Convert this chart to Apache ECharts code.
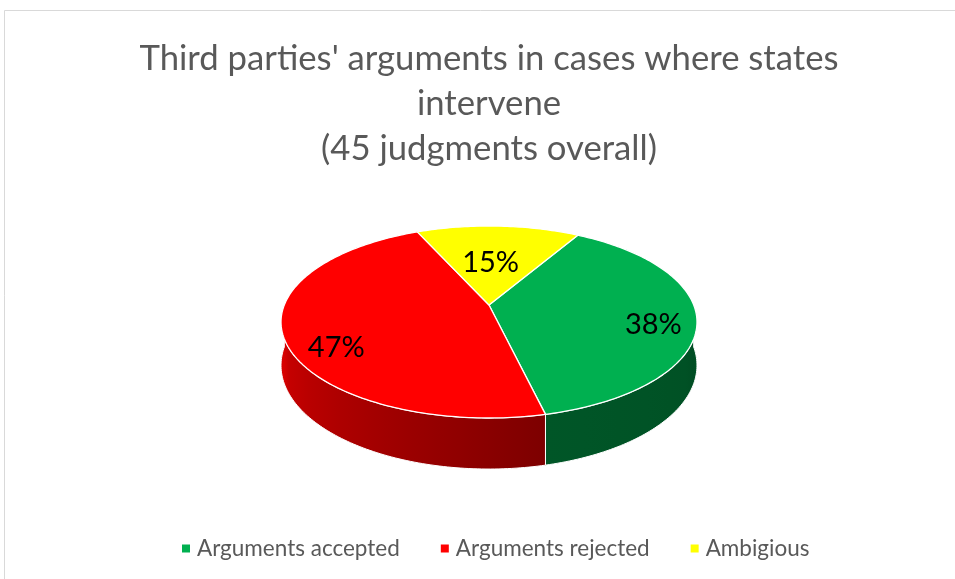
<!DOCTYPE html>
<html><head><meta charset="utf-8">
<script src="https://cdn.jsdelivr.net/npm/echarts@6/dist/echarts.min.js"></script>
<style>html,body{margin:0;padding:0;background:#fff}#chart{width:955px;height:579px}</style>
</head><body><div id="chart"></div>
<script>
// ---- data ----
const categories = ['Arguments accepted', 'Arguments rejected', 'Ambigious'];
const shares = [38, 47, 15];
const colors = ['#00b050', '#ff0000', '#ffff00'];
const titleLines = ["Third parties' arguments in cases where states", 'intervene', '(45 judgments overall)'];

// ---- geometry / style (not data) ----
const PIE = { cx: 489, cy: 305, f: 204.7, g: 93, k: 0.177, depth: 42, startAngle: 30 };
const LABEL_POS = [{ r: 0.8, da: 6 }, { r: 0.81, da: -13 }, { r: 0.5, da: -2 }];
const SHADE = [[90, 0.44], [167, 0.49], [260, 0.83], [270, 0.85]];

const total = shares.reduce((a, b) => a + b, 0);
const rad = d => d * Math.PI / 180;

function proj(deg, r) {
  const u = r * Math.sin(rad(deg)), v = r * Math.cos(rad(deg));
  const w = 1 + PIE.k * v;
  return [PIE.cx + PIE.f * u / w, PIE.cy - PIE.g * v / w, w];
}
function projBottom(deg) {
  const p = proj(deg, 1);
  return [p[0], p[1] + PIE.depth / p[2]];
}
function shadeAt(deg) {
  let d = ((deg % 360) + 360) % 360;
  if (d <= SHADE[0][0]) return SHADE[0][1];
  for (let i = 1; i < SHADE.length; i++) {
    if (d <= SHADE[i][0]) {
      const t = (d - SHADE[i - 1][0]) / (SHADE[i][0] - SHADE[i - 1][0]);
      return SHADE[i - 1][1] + t * (SHADE[i][1] - SHADE[i - 1][1]);
    }
  }
  return SHADE[SHADE.length - 1][1];
}
function shadeColor(hex, s) {
  const n = parseInt(hex.slice(1), 16);
  const r = Math.round(((n >> 16) & 255) * s), g = Math.round(((n >> 8) & 255) * s), b = Math.round((n & 255) * s);
  return 'rgb(' + r + ',' + g + ',' + b + ')';
}
function arc(a0, a1, fn) {
  const pts = [];
  const steps = Math.max(2, Math.ceil(Math.abs(a1 - a0)));
  for (let s = 0; s <= steps; s++) pts.push(fn(a0 + (a1 - a0) * s / steps));
  return pts;
}

function renderSlice(i) {
  return function (params, api) {
    const value = api.value(0);
    let before = 0;
    for (let j = 0; j < i; j++) before += shares[j];
    const a0 = PIE.startAngle + 360 * before / total;
    const a1 = a0 + 360 * value / total;
    const children = [];
    // front wall
    [0, 360].forEach(off => {
      const s0 = Math.max(a0, 90 + off), s1 = Math.min(a1, 270 + off);
      if (s1 - s0 > 0.01) {
        const top = arc(s0, s1, d => proj(d, 1).slice(0, 2));
        const bot = arc(s1, s0, projBottom);
        const pts = top.concat(bot);
        const xs = top.map(p => p[0]);
        const minX = Math.min(...xs), maxX = Math.max(...xs);
        const stops = [];
        for (let t = 0; t <= 8; t++) {
          const d = s0 + (s1 - s0) * t / 8;
          const x = proj(d, 1)[0];
          stops.push({ offset: (x - minX) / Math.max(1, maxX - minX), color: shadeColor(colors[i], shadeAt(d)) });
        }
        stops.sort((p, q) => p.offset - q.offset);
        children.push({
          type: 'polygon', z2: 1,
          shape: { points: pts },
          style: { fill: { type: 'linear', x: 0, y: 0, x2: 1, y2: 0, colorStops: stops }, stroke: '#ffffff', lineWidth: 1 }
        });
      }
    });
    // top face
    const topPts = [proj(0, 0).slice(0, 2)].concat(arc(a0, a1, d => proj(d, 1).slice(0, 2)));
    children.push({
      type: 'polygon', z2: 10,
      shape: { points: topPts },
      style: { fill: colors[i], stroke: '#ffffff', lineWidth: 1.3, lineJoin: 'round' }
    });
    // label
    const lp = LABEL_POS[i];
    const pos = proj((a0 + a1) / 2 + lp.da, lp.r);
    children.push({
      type: 'text', z2: 20,
      x: pos[0], y: pos[1],
      style: {
        text: Math.round(value / total * 100) + '%',
        fill: '#000000', font: '29px Lato', align: 'center', verticalAlign: 'middle'
      }
    });
    return { type: 'group', children };
  };
}

const chart = echarts.init(document.getElementById('chart'), null, { renderer: 'canvas' });
chart.setOption({
  animation: false,
  backgroundColor: '#ffffff',
  title: {
    text: titleLines.join('\n'),
    left: 489, top: 36, textAlign: 'center', padding: 0,
    textStyle: { fontFamily: 'Lato', fontSize: 34.7, fontWeight: 'normal', color: '#595959', lineHeight: 45 }
  },
  legend: {
    data: categories,
    left: 182, top: 537, padding: 0,
    icon: 'rect', itemWidth: 8, itemHeight: 8, itemGap: 41,
    textStyle: { fontFamily: 'Lato', fontSize: 22.5, color: '#595959', padding: [0, 0, 0, 2] }
  },
  graphic: [{
    type: 'rect', silent: true, z: -10,
    shape: { x: 4.5, y: 10.5, width: 1200, height: 1200 },
    style: { fill: 'none', stroke: '#d9d9d9', lineWidth: 1 }
  }],
  series: categories.map((name, i) => ({
    type: 'custom', name, coordinateSystem: 'none', silent: true,
    itemStyle: { color: colors[i] },
    data: [[shares[i]]],
    renderItem: renderSlice(i)
  }))
});
</script></body></html>
